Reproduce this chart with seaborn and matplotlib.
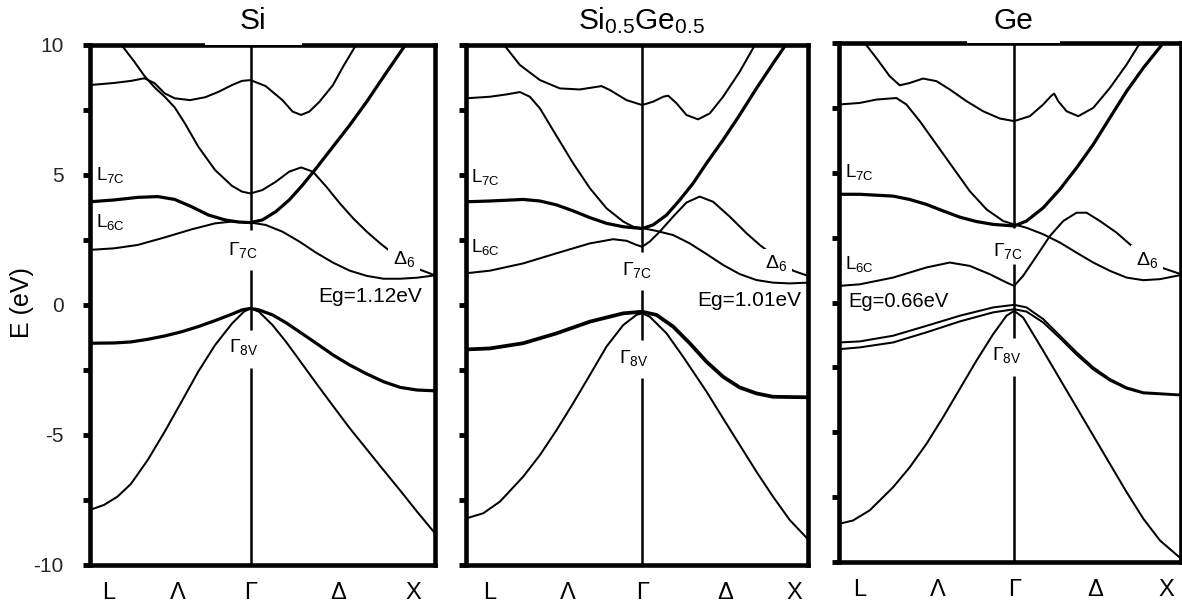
import matplotlib
matplotlib.use("Agg")
import matplotlib.pyplot as plt
from matplotlib.ticker import MultipleLocator
from matplotlib.patches import Rectangle
import pandas as pd
import seaborn as sns

# ---------------- data (k in units of 2pi/a, Gamma = 0, X = 1; E in eV) ----------------
K_LABELS = ["L", "Λ", "Γ", "Δ", "X"]
TITLES = ["Si", "Si$_{0.5}$Ge$_{0.5}$", "Ge"]
EG_TEXT = ["Eg=1.12eV", "Eg=1.01eV", "Eg=0.66eV"]
K_L = [-0.870, -1.062, -1.050]                       # position of L in each panel
K_TICKS_SI = [-0.766, -0.392, 0.0, 0.474, 0.885]
K_TICKS_SIGE = [-0.918, -0.446, 0.0, 0.498, 0.920]
K_TICKS_GE = [-0.926, -0.456, 0.0, 0.484, 0.914]

# --- Si ---
SI_U1 = [(-0.870, 8.46), (-0.739, 8.54), (-0.648, 8.62), (-0.575, 8.72), (-0.520, 8.53),
         (-0.465, 8.14), (-0.411, 7.95), (-0.328, 7.88), (-0.246, 7.99), (-0.173, 8.20),
         (-0.100, 8.46), (-0.046, 8.62), (0.000, 8.65), (0.082, 8.42), (0.173, 7.88),
         (0.228, 7.44), (0.274, 7.31), (0.319, 7.44), (0.374, 7.82), (0.447, 8.46),
         (0.502, 9.17), (0.572, 10.0)]
SI_U2 = [(-0.699, 10.0), (-0.630, 9.36), (-0.575, 8.81), (-0.520, 8.37), (-0.465, 8.01),
         (-0.411, 7.60), (-0.356, 6.99), (-0.283, 6.09), (-0.192, 5.19), (-0.100, 4.58),
         (-0.046, 4.36), (0.000, 4.29), (0.064, 4.42), (0.137, 4.74), (0.210, 5.13),
         (0.274, 5.29), (0.338, 5.13), (0.411, 4.55), (0.484, 3.91), (0.557, 3.33),
         (0.630, 2.82), (0.703, 2.37), (0.776, 1.96), (0.849, 1.60), (0.922, 1.35), (1.000, 1.14)]
SI_C7 = [(-0.870, 3.97), (-0.739, 4.04), (-0.611, 4.14), (-0.502, 4.17), (-0.411, 4.06),
         (-0.319, 3.78), (-0.228, 3.46), (-0.137, 3.27), (-0.064, 3.19), (0.000, 3.17),
         (0.064, 3.27), (0.137, 3.59), (0.210, 4.04), (0.283, 4.62), (0.356, 5.26),
         (0.447, 6.09), (0.538, 6.92), (0.630, 7.82), (0.721, 8.78), (0.839, 10.0)]
SI_C6 = [(-0.870, 2.12), (-0.739, 2.18), (-0.611, 2.31), (-0.465, 2.60), (-0.319, 2.91),
         (-0.192, 3.14), (-0.100, 3.21), (0.000, 3.17), (0.082, 3.08), (0.173, 2.82),
         (0.265, 2.44), (0.356, 2.01), (0.447, 1.63), (0.538, 1.32), (0.630, 1.12),
         (0.721, 1.01), (0.812, 1.01), (0.903, 1.05), (1.000, 1.14)]
SI_HH = [(-0.870, -1.47), (-0.739, -1.46), (-0.648, -1.42), (-0.557, -1.32), (-0.465, -1.19),
         (-0.374, -1.03), (-0.283, -0.83), (-0.192, -0.60), (-0.100, -0.35), (-0.046, -0.19),
         (0.000, -0.13), (0.046, -0.19), (0.119, -0.38), (0.192, -0.68), (0.265, -1.03),
         (0.356, -1.47), (0.447, -1.92), (0.538, -2.31), (0.630, -2.65), (0.721, -2.95),
         (0.812, -3.17), (0.903, -3.27), (1.000, -3.30)]
SI_LH = [(-0.870, -7.88), (-0.794, -7.69), (-0.721, -7.37), (-0.648, -6.88), (-0.557, -5.96),
         (-0.465, -4.87), (-0.374, -3.72), (-0.283, -2.56), (-0.192, -1.54), (-0.100, -0.71),
         (-0.036, -0.26), (0.000, -0.13), (0.046, -0.26), (0.119, -0.77), (0.192, -1.41),
         (0.265, -2.12), (0.356, -3.01), (0.447, -3.88), (0.538, -4.74), (0.630, -5.55),
         (0.721, -6.35), (0.812, -7.14), (0.903, -7.95), (1.000, -8.78)]

# --- Si0.5Ge0.5 ---
SG_U2 = [(-0.832, 10.0), (-0.737, 9.23), (-0.616, 8.65), (-0.496, 8.33), (-0.376, 8.29),
         (-0.295, 8.37), (-0.245, 8.42), (-0.195, 8.27), (-0.094, 7.88), (0.000, 7.69),
         (0.066, 7.82), (0.127, 8.01), (0.157, 8.05), (0.207, 7.76), (0.267, 7.31),
         (0.337, 7.14), (0.408, 7.37), (0.488, 8.01), (0.588, 8.97), (0.680, 10.0)]
SG_C7 = [(-1.062, 3.97), (-0.918, 4.00), (-0.717, 4.06), (-0.616, 4.00), (-0.516, 3.85),
         (-0.416, 3.62), (-0.315, 3.36), (-0.215, 3.14), (-0.114, 3.01), (0.000, 2.94),
         (0.066, 3.08), (0.147, 3.46), (0.227, 4.04), (0.307, 4.68), (0.388, 5.45),
         (0.488, 6.35), (0.588, 7.31), (0.689, 8.33), (0.789, 9.29), (0.865, 10.0)]
SG_C8 = [(-1.062, 7.95), (-0.918, 8.01), (-0.817, 8.10), (-0.737, 8.19), (-0.677, 8.01),
         (-0.616, 7.56), (-0.516, 6.50), (-0.416, 5.45), (-0.315, 4.49), (-0.215, 3.72),
         (-0.114, 3.21), (-0.054, 3.01), (0.000, 2.96), (0.086, 2.85), (0.187, 2.69),
         (0.287, 2.37), (0.388, 1.96), (0.488, 1.54), (0.588, 1.19), (0.689, 0.96),
         (0.789, 0.86), (0.890, 0.83), (1.000, 0.86)]
SG_L6 = [(-1.062, 1.22), (-0.918, 1.32), (-0.717, 1.60), (-0.516, 1.99), (-0.315, 2.37),
         (-0.175, 2.53), (-0.094, 2.47), (-0.034, 2.31), (0.000, 2.24), (0.046, 2.44),
         (0.106, 2.82), (0.187, 3.40), (0.267, 3.94), (0.347, 4.17), (0.428, 3.97),
         (0.528, 3.40), (0.629, 2.76), (0.709, 2.31), (0.789, 1.92), (0.910, 1.32), (1.000, 1.12)]
SG_HH = [(-1.062, -1.71), (-0.918, -1.67), (-0.717, -1.47), (-0.516, -1.09), (-0.315, -0.64),
         (-0.114, -0.32), (0.000, -0.26), (0.086, -0.38), (0.187, -0.83), (0.287, -1.47),
         (0.388, -2.18), (0.488, -2.76), (0.588, -3.17), (0.689, -3.40), (0.789, -3.53),
         (1.000, -3.55)]
SG_LH = [(-1.062, -8.21), (-0.958, -8.01), (-0.857, -7.56), (-0.717, -6.60), (-0.616, -5.77),
         (-0.516, -4.81), (-0.416, -3.78), (-0.315, -2.69), (-0.215, -1.60), (-0.114, -0.77),
         (-0.034, -0.38), (0.000, -0.32), (0.046, -0.45), (0.147, -1.09), (0.247, -1.99),
         (0.388, -3.33), (0.488, -4.36), (0.588, -5.38), (0.689, -6.41), (0.789, -7.37),
         (0.890, -8.27), (1.000, -9.01)]

# --- Ge ---
GE_U2 = [(-0.896, 10.0), (-0.826, 9.42), (-0.746, 8.72), (-0.686, 8.37), (-0.626, 8.46),
         (-0.546, 8.63), (-0.466, 8.53), (-0.386, 8.21), (-0.286, 7.76), (-0.186, 7.37),
         (-0.086, 7.09), (0.000, 6.99), (0.094, 7.18), (0.174, 7.63), (0.220, 7.95),
         (0.240, 8.05), (0.264, 7.76), (0.314, 7.37), (0.384, 7.18), (0.474, 7.50),
         (0.574, 8.27), (0.674, 9.17), (0.754, 10.0)]
GE_C7 = [(-1.050, 4.17), (-0.926, 4.17), (-0.726, 4.10), (-0.626, 3.97), (-0.526, 3.78),
         (-0.426, 3.53), (-0.326, 3.29), (-0.226, 3.12), (-0.126, 3.01), (0.000, 2.95),
         (0.074, 3.14), (0.174, 3.65), (0.274, 4.36), (0.374, 5.19), (0.474, 6.09),
         (0.574, 7.12), (0.674, 8.14), (0.774, 9.04), (0.894, 10.0)]
GE_C8 = [(-1.050, 7.63), (-0.926, 7.69), (-0.826, 7.82), (-0.706, 7.88), (-0.646, 7.63),
         (-0.566, 6.99), (-0.466, 6.09), (-0.366, 5.19), (-0.266, 4.29), (-0.166, 3.59),
         (-0.066, 3.14), (0.000, 3.01), (0.074, 2.88), (0.174, 2.63), (0.274, 2.31),
         (0.374, 1.92), (0.474, 1.54), (0.574, 1.22), (0.674, 0.96), (0.774, 0.86),
         (0.874, 0.90), (1.000, 1.06)]
GE_L6 = [(-1.050, 0.64), (-0.926, 0.70), (-0.726, 0.96), (-0.526, 1.35), (-0.386, 1.54),
         (-0.266, 1.41), (-0.146, 1.09), (-0.046, 0.77), (0.000, 0.64), (0.054, 1.03),
         (0.134, 1.79), (0.214, 2.56), (0.294, 3.14), (0.374, 3.46), (0.434, 3.46),
         (0.514, 3.14), (0.614, 2.69), (0.694, 2.24), (0.774, 1.86), (0.894, 1.32), (1.000, 1.09)]
GE_HH1 = [(-1.050, -1.54), (-0.926, -1.50), (-0.726, -1.28), (-0.526, -0.90), (-0.326, -0.51),
          (-0.126, -0.19), (0.000, -0.09), (0.074, -0.19), (0.174, -0.64), (0.274, -1.28),
          (0.374, -1.92), (0.474, -2.50), (0.574, -2.95), (0.674, -3.27), (0.774, -3.46),
          (1.000, -3.55)]
GE_HH2 = [(-1.050, -1.80), (-0.926, -1.73), (-0.726, -1.54), (-0.526, -1.15), (-0.326, -0.73),
          (-0.126, -0.38), (0.000, -0.26), (0.074, -0.35), (0.174, -0.77), (0.274, -1.37),
          (0.374, -2.01), (0.474, -2.58), (0.574, -3.01), (0.674, -3.32), (0.774, -3.50),
          (1.000, -3.58)]
GE_LH = [(-1.050, -8.53), (-0.966, -8.40), (-0.866, -8.01), (-0.726, -7.12), (-0.626, -6.35),
         (-0.526, -5.45), (-0.426, -4.42), (-0.326, -3.33), (-0.226, -2.24), (-0.126, -1.22),
         (-0.046, -0.51), (0.000, -0.32), (0.054, -0.58), (0.174, -1.86), (0.274, -2.95),
         (0.374, -4.04), (0.474, -5.13), (0.574, -6.22), (0.674, -7.31), (0.774, -8.33),
         (0.874, -9.17), (1.000, -9.87)]

# ---------------- styling ----------------
sns.set_theme(style="white")
plt.rcParams["font.family"] = ["Liberation Sans", "DejaVu Sans"]
plt.rcParams["mathtext.fontset"] = "custom"
plt.rcParams["mathtext.rm"] = "Liberation Sans"
plt.rcParams["mathtext.it"] = "Liberation Sans:italic"
plt.rcParams["mathtext.bf"] = "Liberation Sans:bold"
plt.rcParams["axes.unicode_minus"] = False

W, H = 1182, 607
fig = plt.figure(figsize=(W / 100, H / 100), dpi=100)
fig.patch.set_facecolor("white")

def fx(px):
    return px / W

def fy(py):
    return 1 - py / H

# axes rectangles in pixels: left, top, right, bottom
RECTS = [(90, 45, 435, 565), (466, 45, 808, 565), (839, 43, 1181, 562)]
axes = []
for (l, t, r, b) in RECTS:
    axes.append(fig.add_axes([fx(l), fy(b), (r - l) / W, (b - t) / H]))

THIN, THICK = 1.45, 2.3

panels = [
    dict(bands=[(SI_U1, THIN), (SI_U2, THIN), (SI_C7, THICK), (SI_C6, THIN),
                (SI_HH, THICK), (SI_LH, THIN)],
         ticks=K_TICKS_SI, gaps=[(2.88, 10), (-0.96, 1.35), (-10, -2.42)],
         L7=(-0.835, 5.0), L6=(-0.835, 3.18), G7=(-0.04, 2.12), G8=(-0.036, -1.62),
         D6=(0.83, 1.76), eg=(0.93, 0.32, "right")),
    dict(bands=[(SG_U2, THIN), (SG_C7, THICK), (SG_C8, THIN), (SG_L6, THIN),
                (SG_HH, THICK + 0.4), (SG_LH, THIN)],
         ticks=K_TICKS_SIGE, gaps=[(2.05, 10), (-1.35, 0.58), (-10, -2.82)],
         L7=(-1.034, 4.91), L6=(-1.034, 2.24), G7=(-0.03, 1.35), G8=(-0.05, -2.02),
         D6=(0.81, 1.60), eg=(0.96, 0.19, "right")),
    dict(bands=[(GE_U2, THIN), (GE_C7, THICK), (GE_C8, THIN), (GE_L6, THIN),
                (GE_HH1, THIN), (GE_HH2, THIN), (GE_LH, THIN)],
         ticks=K_TICKS_GE, gaps=[(2.88, 10), (-1.35, 1.47), (-10, -2.82)],
         L7=(-1.016, 5.04), L6=(-1.016, 1.47), G7=(-0.036, 2.0), G8=(-0.042, -2.02),
         D6=(0.794, 1.64), eg=(-0.996, 0.04, "left")),
]

for i, (ax, p) in enumerate(zip(axes, panels)):
    for band, lw in p["bands"]:
        df = pd.DataFrame(band, columns=["k", "E"])
        sns.lineplot(data=df, x="k", y="E", ax=ax, sort=False, estimator=None,
                     color="black", linewidth=lw, legend=False)
    # Gamma vertical line (broken where labels sit)
    for lo, hi in p["gaps"]:
        ax.plot([0, 0], [lo, hi], color="black", lw=1.8, solid_capstyle="butt", zorder=3)

    ax.set_xlim(K_L[i], 1.0)
    ax.set_ylim(-10, 10)
    ax.set_xlabel("")
    ax.set_ylabel("")
    ax.set_xticks(p["ticks"])
    ax.set_xticklabels(K_LABELS, fontsize=17)
    ax.yaxis.set_major_locator(MultipleLocator(5))
    ax.yaxis.set_minor_locator(MultipleLocator(2.5))
    ax.tick_params(axis="y", which="both", direction="out", length=5, width=3.5,
                   color="black", left=True, right=False, labelsize=15, pad=14,
                   labelleft=(i == 0))
    ax.tick_params(axis="x", length=0, pad=12, colors="black")
    for s in ax.spines.values():
        s.set_linewidth(3.3)
        s.set_color("black")
    ax.set_facecolor("white")

    kw = dict(color="black", zorder=5)
    ax.text(*p["L7"], "L$_{\\mathrm{7C}}$", fontsize=13.5, ha="left", va="center", **kw)
    ax.text(*p["L6"], "L$_{\\mathrm{6C}}$", fontsize=13.5, ha="left", va="center", **kw)
    ax.text(*p["G7"], "Γ$_{\\mathrm{7C}}$", fontsize=14, ha="center", va="center", **kw)
    ax.text(*p["G8"], "Γ$_{\\mathrm{8V}}$", fontsize=14, ha="center", va="center", **kw)
    ax.text(*p["D6"], "Δ$_{6}$", fontsize=14, ha="center", va="center",
            bbox=dict(facecolor="white", edgecolor="none", boxstyle="square,pad=0.25"), **kw)
    ex, ey, eha = p["eg"]
    ax.text(ex, ey, EG_TEXT[i], fontsize=15 if i < 2 else 14.5, ha=eha, va="center", **kw)

# titles
for tx, title in zip([253, 642, 1013], TITLES):
    fig.text(fx(tx), fy(29), title, fontsize=21.5, ha="center", va="baseline", color="black")

# white title boxes overlapping the top frame
fig.patches.append(Rectangle((fx(205), fy(45.0)), 97 / W, 8 / H, transform=fig.transFigure,
                             facecolor="white", edgecolor="none", zorder=10))
fig.patches.append(Rectangle((fx(967), fy(43.0)), 93 / W, 8 / H, transform=fig.transFigure,
                             facecolor="white", edgecolor="none", zorder=10))

fig.text(fx(22), fy(303), "E (eV)", rotation=90, fontsize=18, ha="center", va="center",
         color="black")

fig.savefig("out.png", dpi=100, facecolor="white")
